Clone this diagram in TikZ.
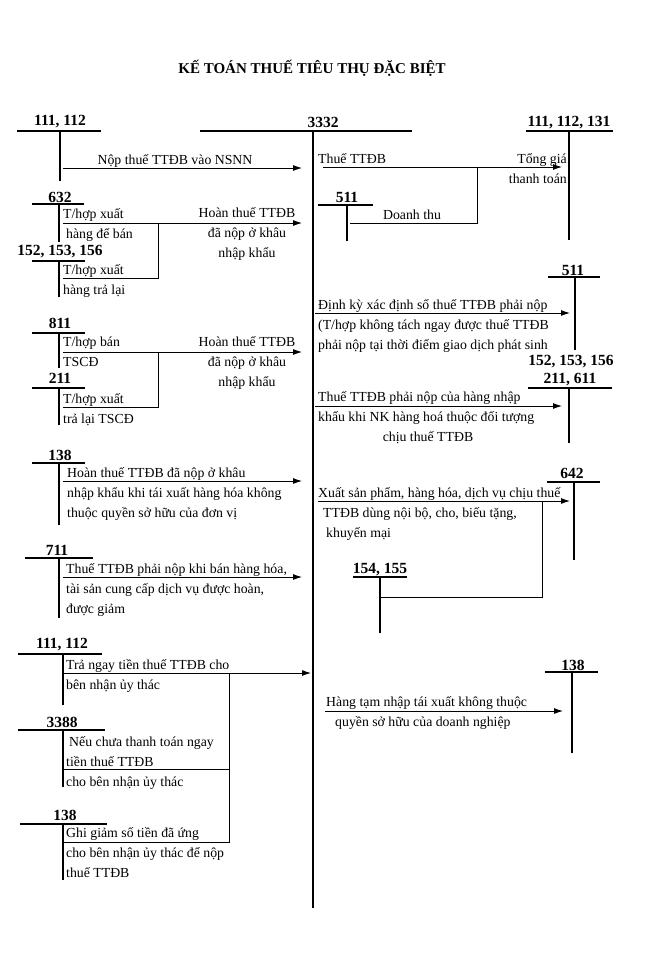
\documentclass[tikz,border=0pt]{standalone}
\usepackage{fontspec}
\setmainfont{Liberation Serif}
\usetikzlibrary{arrows.meta}
\tikzset{
    title/.style = {font=\fontsize{15}{18}\selectfont\bfseries, inner sep=0pt},
    acct/.style = {font=\fontsize{15.5}{18}\selectfont\bfseries, inner sep=0pt},
    note/.style = {font=\fontsize{13.8}{20}\selectfont, inner sep=0pt, align=left, anchor=base west},
    tline/.style = {line width=1.2pt},
    mainline/.style = {line width=2.2pt},
    flow/.style = {line width=0.9pt, -{Latex[length=9pt,width=6pt]}},
    link/.style = {line width=0.9pt},
}

\begin{document}
\begin{tikzpicture}[x=1pt,y=-1pt]
\fill[white] (0,0) rectangle (646,975);
\useasboundingbox (0,0) rectangle (646,975);
\node[title] (title) at (312,68) {KẾ TOÁN THUẾ TIÊU THỤ ĐẶC BIỆT};

% central account 3332
\node[acct] (t3332) at (323,122) {3332};
\draw[mainline] (200,131) -- (412,131) (313,131) -- (313,908);
\coordinate (lin) at (302,0);

% 111, 112 (top left)
\node[acct] (t111a) at (60,122) {111, 112};
\draw[tline] (17,131) -- (101,131) (60,131) -- (60,181);
\coordinate (f1) at (63,168);
\draw[flow] (f1) -- (f1 -| lin);
\node[note, anchor=base] (n1) at (175,164) {Nộp thuế TTĐB vào NSNN};

% 632 and 152, 153, 156
\node[acct] (t632) at (60,197) {632};
\draw[tline] (32,204) -- (84,204) (59,204) -- (59,242);
\node[acct] (t152a) at (60,252) {152, 153, 156};
\draw[tline] (32,261) -- (85,261) (59,261) -- (59,297);
\coordinate (f2) at (63,223);
\coordinate (f2b) at (63,278);
\coordinate (j2) at (158,223);
\draw[flow] (f2) -- (f2 -| lin);
\draw[link] (f2b) -| (j2);
\node[note] (n2a) at (63,238) {T/hợp xuất\\\hspace{3pt}hàng để bán};
\node[note] (n2b) at (63,294) {T/hợp xuất\\hàng trả lại};
\node[note, align=center, anchor=base] (n2c) at (247,257) {Hoàn thuế TTĐB\\đã nộp ở khâu\\nhập khẩu};

% 811 and 211
\node[acct] (t811) at (60,323) {811};
\draw[tline] (32,333) -- (85,333) (59,333) -- (59,368);
\node[acct] (t211a) at (60,378) {211};
\draw[tline] (32,388) -- (85,388) (59,388) -- (59,425);
\coordinate (f3) at (63,352);
\coordinate (f3b) at (63,407);
\coordinate (j3) at (158,352);
\draw[flow] (f3) -- (f3 -| lin);
\draw[link] (f3b) -| (j3);
\node[note] (n3a) at (63,366) {T/hợp bán\\TSCĐ};
\node[note] (n3b) at (63,423) {T/hợp xuất\\trả lại TSCĐ};
\node[note, align=center, anchor=base] (n3c) at (247,386) {Hoàn thuế TTĐB\\đã nộp ở khâu\\nhập khẩu};

% 138 (left)
\node[acct] (t138a) at (60,455) {138};
\draw[tline] (32,463) -- (85,463) (59,463) -- (59,525);
\coordinate (f4) at (63,481);
\draw[flow] (f4) -- (f4 -| lin);
\node[note] (n4) at (67,517) {Hoàn thuế TTĐB đã nộp ở khâu\\nhập khẩu khi tái xuất hàng hóa không\\thuộc quyền sở hữu của đơn vị};

% 711
\node[acct] (t711) at (57,550) {711};
\draw[tline] (25,558) -- (93,558) (59,558) -- (59,618);
\coordinate (f5) at (63,577);
\draw[flow] (f5) -- (f5 -| lin);
\node[note] (n5) at (66,613) {Thuế TTĐB phải nộp khi bán hàng hóa,\\tài sản cung cấp dịch vụ được hoàn,\\được giảm};

% 111, 112 / 3388 / 138 (bottom left)
\node[acct] (t111b) at (62,645) {111, 112};
\draw[tline] (18,654) -- (102,654) (63,654) -- (63,705);
\coordinate (f6) at (63,673);
\coordinate (f6e) at (311,673);
\coordinate (j6) at (229,673);
\draw[flow] (f6) -- (f6e);
\node[note] (n6) at (66,689) {Trả ngay tiền thuế TTĐB cho\\bên nhận ủy thác};

\node[acct] (t3388) at (62,722) {3388};
\draw[tline] (18,730) -- (105,730) (63,730) -- (63,787);
\coordinate (f7) at (63,769);
\draw[link] (f7) -| (j6);
\node[note] (n7) at (66,786) {\hspace{3pt}Nếu chưa thanh toán ngay\\tiền thuế TTĐB\\cho bên nhận ủy thác};

\node[acct] (t138b) at (65,815) {138};
\draw[tline] (20,824) -- (107,824) (63,824) -- (63,880);
\coordinate (f8) at (63,842);
\draw[link] (f8) -| (j6);
\node[note] (n8) at (66,877) {Ghi giảm số tiền đã ứng\\cho bên nhận ủy thác để nộp\\thuế TTĐB};

% 111, 112, 131 and 511 (top right)
\node[acct] (t111c) at (569,123) {111, 112, 131};
\draw[tline] (526,131) -- (613,131) (569,131) -- (569,240);
\coordinate (g1) at (323,167);
\coordinate (g1e) at (562,167);
\draw[flow] (g1) -- (g1e);
\node[note] (m1) at (318,163) {Thuế TTĐB};
\node[note, align=right, anchor=base east] (m1b) at (567,183) {Tổng giá\\thanh toán};

\node[acct] (t511a) at (347,197) {511};
\draw[tline] (318,205) -- (373,205) (347,205) -- (347,241);
\coordinate (g2) at (350,223);
\coordinate (j7) at (477,167);
\draw[link] (g2) -| (j7);
\node[note, anchor=base] (m2) at (412,219) {Doanh thu};

% 511 (right)
\node[acct] (t511b) at (573,270) {511};
\draw[tline] (548,277) -- (600,277) (575,277) -- (575,350);
\coordinate (g3) at (315,313);
\coordinate (g3e) at (570,313);
\draw[flow] (g3) -- (g3e);
\node[note] (m3) at (318,349) {Định kỳ xác định số thuế TTĐB phải nộp\\(T/hợp không tách ngay được thuế TTĐB\\phải nộp tại thời điểm giao dịch phát sinh};

% 152, 153, 156 / 211, 611
\node[acct] (t152b) at (571,362) {152, 153, 156};
\node[acct] (t211b) at (570,380) {211, 611};
\draw[tline] (528,388) -- (612,388) (569,388) -- (569,443);
\coordinate (g4) at (315,406);
\coordinate (g4e) at (562,406);
\draw[flow] (g4) -- (g4e);
\node[note] (m4) at (318,421) {Thuế TTĐB phải nộp của hàng nhập\\khẩu khi NK hàng hoá thuộc đối tượng};
\node[note, anchor=base] (m4b) at (428,441) {chịu thuế TTĐB};

% 642 and 154, 155
\node[acct] (t642) at (572,473) {642};
\draw[tline] (547,482) -- (600,482) (574,482) -- (574,560);
\coordinate (g5) at (318,501);
\coordinate (g5e) at (570,501);
\coordinate (j8) at (542,501);
\draw[flow] (g5) -- (g5e);
\node[note] (m5) at (318,537) {Xuất sản phẩm, hàng hóa, dịch vụ chịu thuế\\\hspace{5pt}TTĐB dùng nội bộ, cho, biếu tặng,\\\hspace{8pt}khuyến mại};

\node[acct] (t154) at (380,570) {154, 155};
\draw[tline] (353,577) -- (407,577) (380,577) -- (380,633);
\coordinate (g6) at (381,597);
\draw[link] (g6) -| (j8);

% 138 (right)
\node[acct] (t138c) at (573,665) {138};
\draw[tline] (545,672) -- (598,672) (572,672) -- (572,753);
\coordinate (g7) at (325,711);
\coordinate (g7e) at (563,711);
\draw[flow] (g7) -- (g7e);
\node[note] (m7) at (326,726) {Hàng tạm nhập tái xuất không thuộc\\\hspace{9pt}quyền sở hữu của doanh nghiệp};
\end{tikzpicture}
\end{document}
